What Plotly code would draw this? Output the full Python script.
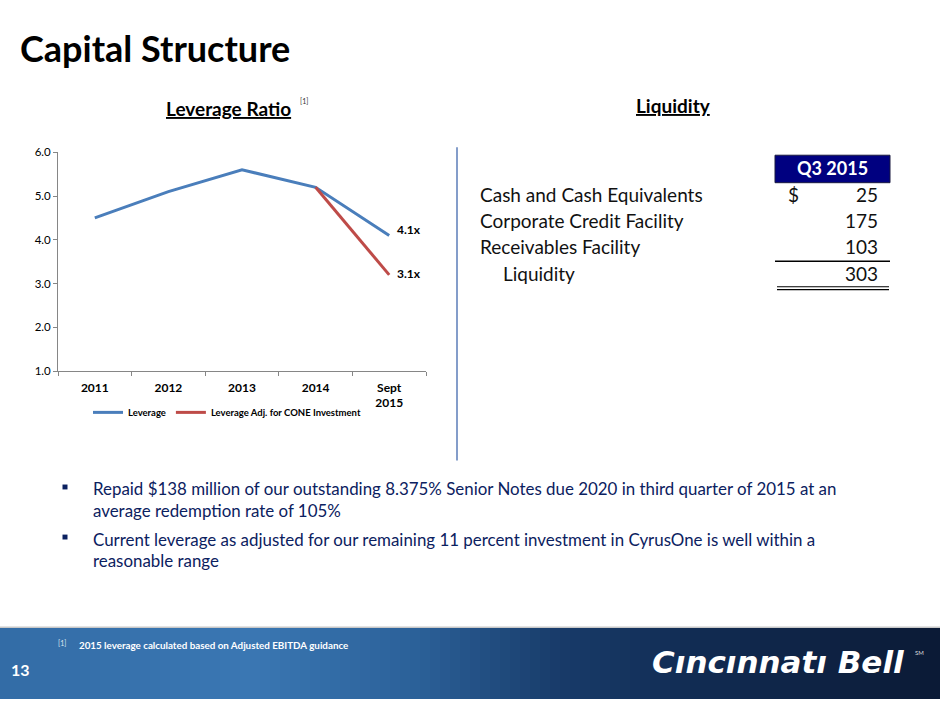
import plotly.graph_objects as go

# ---------------- data ----------------
years = ["2011", "2012", "2013", "2014", "Sept<br>2015"]
leverage = [4.5, 5.1, 5.6, 5.2, 4.1]
adj_years = ["2014", "Sept<br>2015"]
adj_leverage = [5.2, 3.2]
label_leverage = "4.1x"
label_adj = "3.1x"

liq_items = ["Cash and Cash Equivalents", "Corporate Credit Facility", "Receivables Facility", "Liquidity"]
liq_values = ["25", "175", "103", "303"]
liq_header = "Q3 2015"

bullets = [
    ["Repaid $138 million of our outstanding 8.375% Senior Notes due 2020 in third quarter of 2015 at an",
     "average redemption rate of 105%"],
    ["Current leverage as adjusted for our remaining 11 percent investment in CyrusOne is well within a",
     "reasonable range"],
]
footnote = "2015 leverage calculated based on Adjusted EBITDA guidance"
page_no = "13"

# ---------------- helpers ----------------
W, H = 940, 705
def X(px): return px / W
def Y(py): return 1 - py / H

FONT = "Lato"
NAVY = "#0b2160"
BLUE = "#4a7ebb"
RED = "#be4b48"

fig = go.Figure()
fig.add_trace(go.Scatter(
    x=years, y=leverage, mode="lines", name="Leverage",
    line=dict(color=BLUE, width=3), hoverinfo="skip"))
fig.add_trace(go.Scatter(
    x=adj_years, y=adj_leverage, mode="lines", name="Leverage Adj. for CONE Investment",
    line=dict(color=RED, width=3), hoverinfo="skip"))

fig.update_layout(
    width=W, height=H, autosize=False,
    margin=dict(l=0, r=0, t=0, b=0),
    paper_bgcolor="white", plot_bgcolor="white",
    font=dict(family=FONT, color="#000"),
    xaxis=dict(domain=[X(58), X(426)], type="category", categoryorder="array", categoryarray=years,
               range=[-0.5, 4.5], showline=True, linecolor="#868686", linewidth=1,
               ticks="outside", ticklen=4, tickcolor="#868686", tickson="boundaries",
               showgrid=False, zeroline=False, fixedrange=True, ticklabelstandoff=5,
               tickfont=dict(family=FONT, size=12, color="#000", weight="bold")),
    yaxis=dict(domain=[Y(371), Y(148)], range=[1, 6], dtick=1, tickformat=".1f",
               showline=True, linecolor="#868686", linewidth=1,
               ticks="outside", ticklen=4, tickcolor="#868686",
               showgrid=False, zeroline=False, fixedrange=True,
               tickfont=dict(family=FONT, size=11.5, color="#000")),
    legend=dict(orientation="h", x=X(88), y=Y(413), xanchor="left", yanchor="middle",
                font=dict(family=FONT, size=9.5, color="#000", weight="bold"),
                itemwidth=30, tracegroupgap=0, bgcolor="rgba(0,0,0,0)"),
    showlegend=True,
)

shapes = []
ann = []

def text(x, y, s, size, color="#000", bold=False, xanchor="left", family=FONT, italic=False):
    ann.append(dict(x=X(x), y=Y(y), xref="paper", yref="paper", text=s, showarrow=False,
                    xanchor=xanchor, yanchor="middle",
                    font=dict(family=family, size=size, color=color,
                              weight="bold" if bold else "normal",
                              style="italic" if italic else "normal")))

# data labels anchored to the data points
for xx, yy, lab, ys in ((years[-1], leverage[-1], label_leverage, 6), (adj_years[-1], adj_leverage[-1], label_adj, 1)):
    ann.append(dict(x=xx, y=yy, xref="x", yref="y", text=lab, showarrow=False, xanchor="left",
                    yanchor="middle", xshift=6, yshift=ys,
                    font=dict(family=FONT, size=12, color="#000", weight="bold")))

# title
text(18, 42, "Capital Structure", 36, "#000", bold=True)

# chart title
text(228, 103, "<u>Leverage Ratio</u>", 19, "#000", bold=True, xanchor="center")
text(298, 96, "[1]", 7, "#333")

# liquidity title
text(673, 100, "<u>Liquidity</u>", 19, "#000", bold=True, xanchor="center")

# separator
shapes.append(dict(type="line", xref="paper", yref="paper", x0=X(457), x1=X(457), y0=Y(143), y1=Y(462),
                   line=dict(color="#5b7db8", width=1.5)))

# liquidity table
shapes.append(dict(type="rect", xref="paper", yref="paper", x0=X(775), x1=X(890), y0=Y(179), y1=Y(151),
                   fillcolor="#000080", line=dict(color="#1a1a40", width=1)))
text(832, 164, liq_header, 18, "white", bold=True, xanchor="center")
row_y = [191, 218, 244, 271]
for i, (lab, val) in enumerate(zip(liq_items, liq_values)):
    lx = 501 if i == 3 else 478
    text(lx, row_y[i], lab, 19, "#111")
    text(880, row_y[i], val, 19, "#111", xanchor="right")
text(786, row_y[0], "$", 19, "#111")
shapes.append(dict(type="line", xref="paper", yref="paper", x0=X(775), x1=X(890), y0=Y(259), y1=Y(259),
                   line=dict(color="#000", width=1.5)))
for yy in (285, 288):
    shapes.append(dict(type="line", xref="paper", yref="paper", x0=X(777), x1=X(889), y0=Y(yy), y1=Y(yy),
                       line=dict(color="#000", width=1.2)))

# bullets
by = [[491, 513], [542, 564]]
for b, lines in enumerate(bullets):
    y0 = by[b][0] - 2
    shapes.append(dict(type="rect", xref="paper", yref="paper", x0=X(62.5), x1=X(67.5), y0=Y(y0 + 2.5), y1=Y(y0 - 2.5),
                       fillcolor=NAVY, line=dict(width=0)))
    for j, ln in enumerate(lines):
        text(91, by[b][j], ln, 16.9, NAVY)

# footer gradient band
stops = [(0, (0x33, 0x6c, 0xa6)), (250, (0x3a, 0x77, 0xb3)), (420, (0x2b, 0x60, 0x98)),
         (560, (0x18, 0x3b, 0x69)), (700, (0x11, 0x2b, 0x52)), (940, (0x0b, 0x1a, 0x35))]
def col(px):
    for (a, ca), (b, cb) in zip(stops[:-1], stops[1:]):
        if a <= px <= b:
            t = (px - a) / (b - a)
            c = [round(ca[k] + (cb[k] - ca[k]) * t) for k in range(3)]
            return "rgb(%d,%d,%d)" % tuple(c)
    return "rgb(11,26,53)"
step = 10
for px in range(0, W, step):
    shapes.append(dict(type="rect", xref="paper", yref="paper", x0=X(px), x1=X(min(px + step + 1, W)),
                       y0=0, y1=Y(632), fillcolor=col(px + step / 2), line=dict(width=0), layer="below"))
shapes.append(dict(type="line", xref="paper", yref="paper", x0=0, x1=1, y0=Y(632), y1=Y(632),
                   line=dict(color="#c8c8c8", width=1.5)))

text(56, 648, "[1]", 7, "#dde6f0")
text(77, 650, footnote, 9.8, "white", bold=True)
text(9, 675, page_no, 16, "white", bold=True)
text(650, 667, "Cıncınnatı Bell", 31, "white", bold=True, family="DejaVu Sans", italic=True)
text(913, 658, "SM", 6, "#dddddd")

fig.update_layout(shapes=shapes, annotations=ann)
fig.write_html("out.html", config={"displayModeBar": False},
               post_script=("document.documentElement.style.margin='0';"
                            "document.body.style.margin='0';"
                            "document.documentElement.style.overflow='hidden';"
                            "document.body.style.overflow='hidden';"
                            "document.documentElement.style.height='705px';"
                            "document.body.style.height='705px';"))
